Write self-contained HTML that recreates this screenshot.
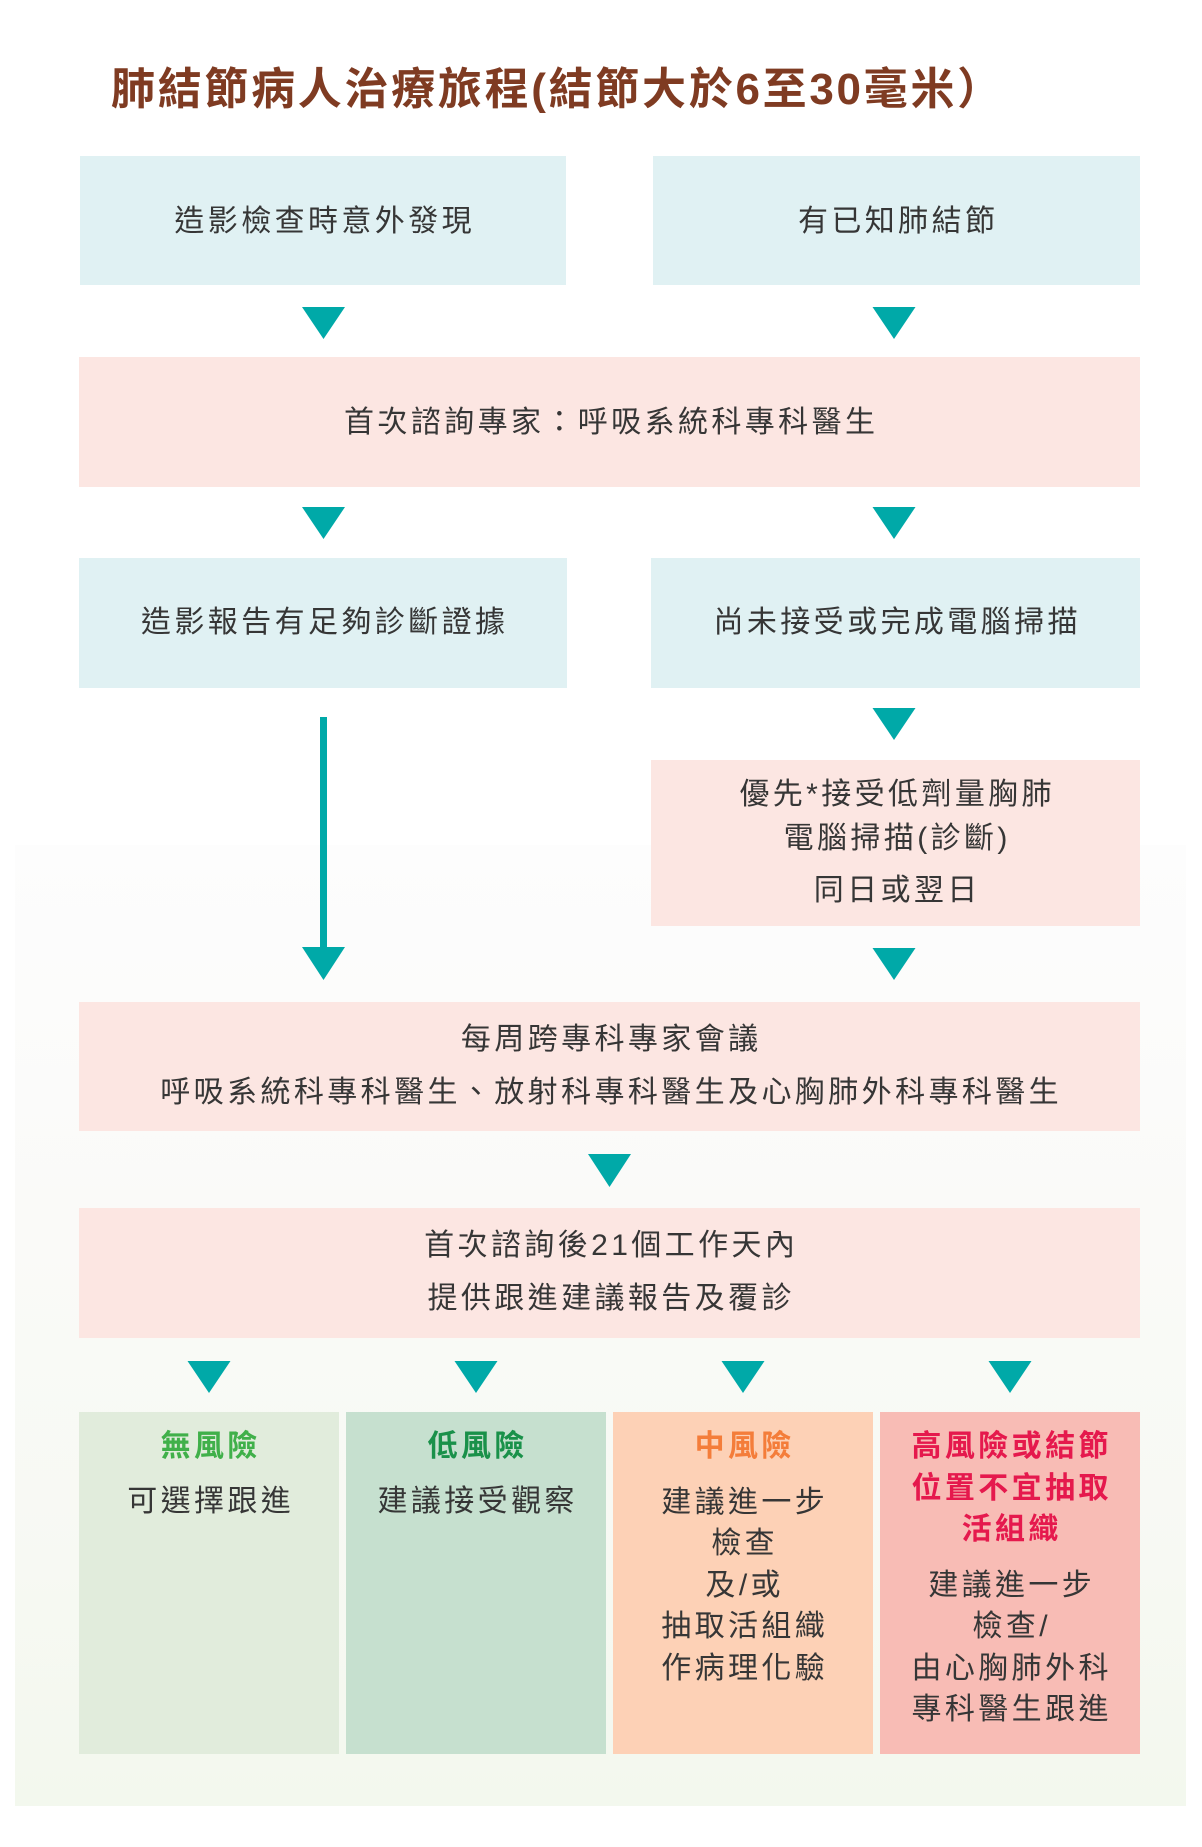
<!DOCTYPE html>
<html>
<head>
<meta charset="utf-8">
<style>
  html,body{margin:0;padding:0;background:#ffffff;}
  body{width:1202px;height:1847px;position:relative;overflow:hidden;
    font-family:"Liberation Sans","Noto Sans CJK TC","Noto Sans CJK SC",sans-serif;}
  .panel{position:absolute;left:15px;top:845px;width:1171px;height:961px;
    background:linear-gradient(to bottom,#fdfdfd 0%,#fafaf8 40%,#f7f9f3 75%,#f3f8ee 100%);}
  .box{position:absolute;}
  .blue{background:#e0f1f3;}
  .pink{background:#fce6e2;}
  .t{position:absolute;text-align:center;height:40px;line-height:40px;
     font-size:30px;color:#363636;letter-spacing:3.4px;white-space:nowrap;
     box-sizing:border-box;padding-left:3.4px;margin-top:3px;}
  .h{font-weight:700;}
  .title{position:absolute;left:111px;top:65px;height:50px;line-height:50px;
     font-size:44px;letter-spacing:2.7px;color:#7f3b22;font-weight:700;white-space:nowrap;}
  svg{position:absolute;left:0;top:0;}
</style>
</head>
<body>
<div class="panel"></div>

<div class="title">肺結節病人治療旅程(結節大於6至30毫米）</div>

<!-- Row 1 -->
<div class="box blue" style="left:80px;top:156px;width:486px;height:129px;"></div>
<div class="box blue" style="left:653px;top:156px;width:487px;height:129px;"></div>
<div class="t" style="left:80px;width:486px;top:199px;">造影檢查時意外發現</div>
<div class="t" style="left:653px;width:487px;top:199px;">有已知肺結節</div>

<!-- Row 2 -->
<div class="box pink" style="left:79px;top:357px;width:1061px;height:130px;"></div>
<div class="t" style="left:79px;width:1061px;top:400px;">首次諮詢專家：呼吸系統科專科醫生</div>

<!-- Row 3 -->
<div class="box blue" style="left:79px;top:558px;width:488px;height:130px;"></div>
<div class="box blue" style="left:651px;top:558px;width:489px;height:130px;"></div>
<div class="t" style="left:79px;width:488px;top:600px;">造影報告有足夠診斷證據</div>
<div class="t" style="left:651px;width:489px;top:600px;">尚未接受或完成電腦掃描</div>

<!-- Box F -->
<div class="box pink" style="left:651px;top:760px;width:489px;height:166px;"></div>
<div class="t" style="left:651px;width:489px;top:772px;">優先*接受低劑量胸肺</div>
<div class="t" style="left:651px;width:489px;top:816px;">電腦掃描(診斷)</div>
<div class="t" style="left:651px;width:489px;top:868px;">同日或翌日</div>

<!-- Box G -->
<div class="box pink" style="left:79px;top:1002px;width:1061px;height:129px;"></div>
<div class="t" style="left:79px;width:1061px;top:1017px;">每周跨專科專家會議</div>
<div class="t" style="left:79px;width:1061px;top:1070px;">呼吸系統科專科醫生、放射科專科醫生及心胸肺外科專科醫生</div>

<!-- Box H -->
<div class="box pink" style="left:79px;top:1208px;width:1061px;height:130px;"></div>
<div class="t" style="left:79px;width:1061px;top:1223px;">首次諮詢後21個工作天內</div>
<div class="t" style="left:79px;width:1061px;top:1276px;">提供跟進建議報告及覆診</div>

<!-- Bottom boxes -->
<div class="box" style="left:79px;top:1412px;width:260px;height:342px;background:#e1ecdc;"></div>
<div class="box" style="left:346px;top:1412px;width:260px;height:342px;background:#c6e0cf;"></div>
<div class="box" style="left:613px;top:1412px;width:260px;height:342px;background:#fdd1b6;"></div>
<div class="box" style="left:880px;top:1412px;width:260px;height:342px;background:#f8bcb5;"></div>

<div class="t h" style="left:79px;width:260px;top:1424px;color:#40b04a;">無風險</div>
<div class="t" style="left:79px;width:260px;top:1479px;">可選擇跟進</div>

<div class="t h" style="left:346px;width:260px;top:1424px;color:#1a914a;">低風險</div>
<div class="t" style="left:346px;width:260px;top:1479px;">建議接受觀察</div>

<div class="t h" style="left:613px;width:260px;top:1424px;color:#f47d3a;">中風險</div>
<div class="t" style="left:613px;width:260px;top:1480px;">建議進一步</div>
<div class="t" style="left:613px;width:260px;top:1521px;">檢查</div>
<div class="t" style="left:613px;width:260px;top:1563px;">及/或</div>
<div class="t" style="left:613px;width:260px;top:1604px;">抽取活組織</div>
<div class="t" style="left:613px;width:260px;top:1646px;">作病理化驗</div>

<div class="t h" style="left:880px;width:260px;top:1424px;color:#e5194d;">高風險或結節</div>
<div class="t h" style="left:880px;width:260px;top:1466px;color:#e5194d;">位置不宜抽取</div>
<div class="t h" style="left:880px;width:260px;top:1507px;color:#e5194d;">活組織</div>
<div class="t" style="left:880px;width:260px;top:1563px;">建議進一步</div>
<div class="t" style="left:880px;width:260px;top:1604px;">檢查/</div>
<div class="t" style="left:880px;width:260px;top:1646px;">由心胸肺外科</div>
<div class="t" style="left:880px;width:260px;top:1687px;">專科醫生跟進</div>

<!-- Arrows -->
<svg width="1202" height="1847" viewBox="0 0 1202 1847">
  <g fill="#00a9a8">
    <polygon points="302,307 345,307 323.5,339"/>
    <polygon points="872.5,307 915.5,307 894,339"/>
    <polygon points="302,507 345,507 323.5,539"/>
    <polygon points="872.5,507 915.5,507 894,539"/>
    <rect x="320" y="717" width="7" height="234"/>
    <polygon points="302,947 345,947 323.5,980"/>
    <polygon points="872.5,708 915.5,708 894,740"/>
    <polygon points="872.5,948 915.5,948 894,980"/>
    <polygon points="588,1154 631,1154 609.5,1187"/>
    <polygon points="187.5,1361 230.5,1361 209,1393"/>
    <polygon points="454.5,1361 497.5,1361 476,1393"/>
    <polygon points="721.5,1361 764.5,1361 743,1393"/>
    <polygon points="988.5,1361 1031.5,1361 1010,1393"/>
  </g>
</svg>
</body>
</html>
